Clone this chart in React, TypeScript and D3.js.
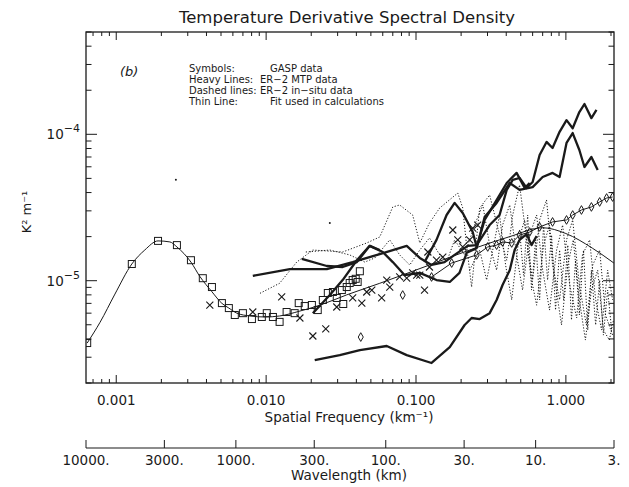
import React, { useRef, useEffect } from 'react';
import * as d3 from 'd3';

type Pt = [number, number];

// axis labels
const freqTicks = [0.001, 0.01, 0.1, 1];
const freqTickLabels = ['0.001', '0.010', '0.100', '1.000'];
const wavelengthTicks = [10000, 3000, 1000, 300, 100, 30, 10, 3];
const wavelengthLabels = ['10000.', '3000.', '1000.', '300.', '100.', '30.', '10.', '3.'];
const yMajorTicks = [1e-4, 1e-5];
const yMajorExp = ['\u22124', '\u22125'];

// Thin line: fit used in calculations
const fitLine: Pt[] = [
  [6.4e-4, 3.75e-6], [7.8e-4, 5.2e-6], [9.8e-4, 8.1e-6], [1.27e-3, 1.3e-5], [1.55e-3, 1.62e-5],
  [1.9e-3, 1.87e-5], [2.28e-3, 1.84e-5], [2.54e-3, 1.7e-5], [3.15e-3, 1.34e-5], [3.61e-3, 1.07e-5],
  [4.35e-3, 8.4e-6], [5.07e-3, 7.0e-6], [5.64e-3, 6.5e-6], [6.38e-3, 6.0e-6], [7.8e-3, 5.74e-6],
  [9.8e-3, 5.65e-6], [1.23e-2, 5.74e-6], [1.68e-2, 6.2e-6], [2.28e-2, 6.8e-6], [3.45e-2, 8.0e-6],
  [5.73e-2, 9.6e-6], [0.123, 1.28e-5], [0.228, 1.62e-5], [0.422, 2.0e-5], [0.7, 2.3e-5],
  [1.0, 2.1e-5], [1.5, 1.67e-5], [2.09, 1.32e-5],
];

// GASP data (symbols)
const gaspSquares: Pt[] = [
  [6.4e-4, 3.75e-6], [1.27e-3, 1.3e-5], [1.9e-3, 1.87e-5], [2.54e-3, 1.75e-5], [3.15e-3, 1.38e-5],
  [3.78e-3, 1.04e-5], [4.35e-3, 9.05e-6], [5.07e-3, 7.03e-6], [5.64e-3, 6.5e-6], [6.18e-3, 5.83e-6],
  [7.0e-3, 6.0e-6], [8.04e-3, 5.47e-6], [9.36e-3, 5.65e-6], [1.01e-2, 6.0e-6], [1.11e-2, 5.65e-6],
  [1.23e-2, 5.23e-6], [1.37e-2, 6.11e-6], [1.55e-2, 6.0e-6], [1.65e-2, 7.03e-6], [1.81e-2, 6.71e-6],
  [2.02e-2, 6.82e-6], [2.21e-2, 6.3e-6], [2.39e-2, 7.38e-6], [2.58e-2, 8.24e-6], [2.79e-2, 8.37e-6],
  [2.96e-2, 7.62e-6], [3.2e-2, 8.63e-6], [3.27e-2, 6.93e-6], [3.45e-2, 9.05e-6], [3.61e-2, 9.64e-6],
  [3.78e-2, 1.01e-5], [3.96e-2, 1.03e-5], [4.08e-2, 9.8e-6], [4.22e-2, 1.16e-5],
];
const gaspCrosses: Pt[] = [
  [4.21e-3, 6.82e-6], [8.15e-3, 6.11e-6], [1.27e-2, 7.74e-6], [1.68e-2, 5.56e-6], [2.05e-2, 4.19e-6],
  [2.5e-2, 4.68e-6], [2.96e-2, 6.61e-6], [3.78e-2, 7.62e-6], [4.35e-2, 7.03e-6], [4.69e-2, 8.37e-6],
  [5.07e-2, 8.63e-6], [5.9e-2, 7.62e-6], [6.38e-2, 1.01e-5], [6.68e-2, 9.05e-6], [7.78e-2, 1.06e-5],
  [8.67e-2, 1.04e-5], [9.5e-2, 1.13e-5], [0.101, 1.09e-5], [0.106, 1.09e-5], [0.114, 8.63e-6],
  [0.12, 1.57e-5], [0.123, 1.24e-5], [0.137, 1.38e-5], [0.151, 1.45e-5], [0.176, 2.22e-5],
  [0.19, 1.9e-5], [0.205, 1.7e-5], [0.228, 1.9e-5], [0.239, 2.29e-5], [0.258, 2.4e-5],
];
const gaspDiamonds: Pt[] = [
  [4.28e-2, 4.12e-6], [8.15e-2, 7.98e-6], [0.127, 1.06e-5], [0.173, 1.32e-5], [0.254, 1.5e-5],
  [0.301, 1.7e-5], [0.345, 1.75e-5], [0.378, 1.84e-5], [0.435, 1.81e-5], [0.491, 2.05e-5],
  [0.573, 2.15e-5], [0.668, 2.33e-5], [0.815, 2.52e-5], [1.01, 2.6e-5], [1.11, 2.81e-5],
  [1.27, 3.04e-5], [1.48, 3.19e-5], [1.68, 3.45e-5], [1.87, 3.67e-5], [2.05, 3.73e-5],
];
const strayDots: Pt[] = [[2.5e-3, 4.9e-5], [2.66e-2, 2.48e-5]];

// Heavy lines: ER-2 MTP data
const mtpLow: Pt[] = [
  [2.11e-2, 2.87e-6], [3.1e-2, 3.1e-6], [4.22e-2, 3.36e-6], [6.38e-2, 3.58e-6], [8.67e-2, 3.1e-6],
  [0.127, 2.74e-6], [0.168, 3.52e-6], [0.211, 4.98e-6], [0.235, 5.56e-6], [0.266, 5.47e-6],
  [0.31, 6.0e-6], [0.345, 7.38e-6], [0.378, 9.35e-6], [0.422, 1.18e-5], [0.455, 1.62e-5],
  [0.491, 1.9e-5], [0.547, 2.08e-5], [0.59, 1.75e-5], [0.638, 2.02e-5],
];
const mtpUpper: Pt[] = [
  [8.15e-3, 1.08e-5], [1.44e-2, 1.2e-5], [2.54e-2, 1.2e-5], [3.78e-2, 1.34e-5], [5.73e-2, 1.52e-5],
  [8.67e-2, 1.73e-5], [0.106, 1.43e-5], [0.127, 1.28e-5], [0.155, 1.34e-5], [0.181, 1.5e-5],
  [0.221, 1.73e-5], [0.254, 1.75e-5], [0.31, 2.4e-5], [0.361, 2.81e-5], [0.403, 4.17e-5],
  [0.442, 4.88e-5], [0.491, 5.03e-5], [0.547, 4.3e-5], [0.6, 4.72e-5], [0.668, 7.22e-5],
  [0.743, 8.87e-5], [0.815, 8.07e-5], [0.908, 1.04e-4], [1.01, 1.25e-4], [1.11, 1.1e-4],
  [1.23, 1.42e-4], [1.33, 1.61e-4], [1.48, 1.29e-4], [1.6, 1.47e-4],
];
const mtpMiddle: Pt[] = [
  [1.73e-2, 1.41e-5], [2.54e-2, 1.26e-5], [3.24e-2, 1.24e-5], [4.03e-2, 1.34e-5], [4.91e-2, 1.73e-5],
  [6.0e-2, 1.57e-5], [7.0e-2, 1.34e-5], [8.41e-2, 1.09e-5], [0.106, 1.13e-5], [0.137, 1.01e-5],
  [0.168, 9.8e-6], [0.195, 1.13e-5], [0.218, 1.55e-5], [0.254, 1.67e-5], [0.287, 2.72e-5],
  [0.345, 3.4e-5], [0.422, 4.65e-5], [0.491, 4.17e-5], [0.6, 4.36e-5], [0.7, 5.11e-5],
  [0.815, 5.45e-5], [0.908, 5.11e-5], [1.01, 8.73e-5], [1.11, 1.02e-4], [1.23, 7.81e-5],
  [1.33, 5.98e-5], [1.48, 7.0e-5], [1.63, 5.71e-5],
];
const mtpSteep: Pt[] = [
  [2.05e-2, 6.0e-6], [2.66e-2, 7.98e-6], [3.24e-2, 1.01e-5], [4.03e-2, 1.38e-5], [4.91e-2, 1.73e-5],
  [5.73e-2, 1.62e-5],
];
const mtpPeak: Pt[] = [
  [0.114, 1.34e-5], [0.137, 1.9e-5], [0.16, 2.81e-5], [0.181, 3.4e-5], [0.205, 2.9e-5],
  [0.239, 2.15e-5], [0.254, 1.7e-5], [0.287, 2.6e-5], [0.324, 3.19e-5], [0.361, 3.85e-5],
  [0.403, 4.65e-5], [0.469, 5.45e-5], [0.531, 4.3e-5], [0.573, 4.65e-5],
];

// Dashed lines: ER-2 in-situ data
const insituA: Pt[] = [
  [9.1e-3, 8.2e-6], [1.23e-2, 9.6e-6], [1.6e-2, 1.34e-5], [2.05e-2, 1.62e-5], [3.24e-2, 1.57e-5],
  [4.69e-2, 1.81e-5], [5.73e-2, 1.99e-5], [7.0e-2, 3.19e-5], [7.78e-2, 3.29e-5], [9.5e-2, 2.81e-5],
  [0.106, 1.81e-5], [0.123, 2.48e-5], [0.144, 3.14e-5], [0.19, 3.97e-5], [0.205, 3.14e-5],
  [0.218, 1.7e-5], [0.235, 9.05e-6], [0.266, 3.14e-5], [0.31, 3.85e-5], [0.361, 2.05e-5],
  [0.403, 1.38e-5], [0.442, 2.81e-5], [0.491, 4.51e-5], [0.547, 1.9e-5], [0.6, 1.01e-5],
  [0.668, 2.6e-5], [0.743, 3.56e-5], [0.815, 1.28e-5], [0.908, 7.4e-6], [1.01, 1.9e-5],
  [1.11, 2.6e-5], [1.23, 9.35e-6], [1.37, 4.98e-6], [1.51, 1.28e-5], [1.68, 1.62e-5],
  [1.84, 5.83e-6], [2.05, 4.25e-6],
];
const insituB: Pt[] = [
  [1.84e-2, 1.57e-5], [2.66e-2, 1.62e-5], [3.61e-2, 1.5e-5], [4.55e-2, 1.34e-5], [5.31e-2, 1.43e-5],
  [6.68e-2, 1.9e-5], [7.78e-2, 1.5e-5], [9.08e-2, 1.28e-5], [0.106, 1.62e-5], [0.123, 1.96e-5],
  [0.144, 1.5e-5], [0.16, 1.34e-5], [0.181, 1.9e-5], [0.211, 1.5e-5], [0.246, 2.4e-5],
  [0.279, 3.29e-5], [0.31, 1.75e-5], [0.345, 1.18e-5], [0.378, 2.4e-5], [0.422, 3.29e-5],
  [0.469, 1.5e-5], [0.514, 8.63e-6], [0.573, 2.05e-5], [0.638, 2.81e-5], [0.7, 1.18e-5],
  [0.778, 6.3e-6], [0.867, 1.62e-5], [0.951, 2.4e-5], [1.06, 9.35e-6], [1.18, 5.56e-6],
  [1.29, 1.5e-5], [1.44, 1.9e-5], [1.58, 7.4e-6], [1.73, 4.6e-6], [1.9, 1.18e-5], [2.05, 7.4e-6],
];
const insituC: Pt[] = [
  [0.228, 1.18e-5], [0.266, 1.62e-5], [0.296, 1.01e-5], [0.33, 1.75e-5], [0.361, 2.81e-5],
  [0.396, 1.28e-5], [0.435, 7.4e-6], [0.484, 1.9e-5], [0.531, 2.6e-5], [0.582, 1.09e-5],
  [0.638, 6.8e-6], [0.71, 1.75e-5], [0.778, 2.4e-5], [0.853, 9.35e-6], [0.935, 4.98e-6],
  [1.03, 1.28e-5], [1.12, 1.9e-5], [1.23, 7.4e-6], [1.35, 3.93e-6], [1.48, 8.63e-6],
  [1.63, 1.18e-5], [1.78, 4.6e-6], [1.95, 3.93e-6], [2.08, 5.4e-6],
];
const insituD: Pt[] = [
  [0.491, 2.22e-5], [0.522, 1.09e-5], [0.556, 2.81e-5], [0.59, 8.63e-6], [0.628, 1.9e-5],
  [0.668, 7.38e-6], [0.71, 2.4e-5], [0.755, 1.01e-5], [0.803, 2.05e-5], [0.853, 6.3e-6],
  [0.908, 1.62e-5], [0.966, 7.38e-6], [1.03, 1.75e-5], [1.09, 5.39e-6], [1.16, 1.38e-5],
  [1.23, 5.83e-6], [1.31, 1.62e-5], [1.4, 4.6e-6], [1.48, 1.18e-5], [1.58, 4.98e-6],
  [1.68, 1.01e-5], [1.78, 4.25e-6], [1.9, 8.63e-6], [2.02, 4.6e-6],
];

const FONT = '"DejaVu Sans", sans-serif';
const INK = '#1a1a1a';

function SpectrumChart() {
  const svgRef = useRef<SVGSVGElement>(null);

  useEffect(() => {
    const width = 629;
    const height = 487;
    const left = 86, right = 614, top = 32, bottom = 383;

    const svg = d3.select(svgRef.current)
      .attr('width', width)
      .attr('height', height)
      .attr('viewBox', `0 0 ${width} ${height}`);
    svg.selectAll('*').remove();

    const x = d3.scaleLog().domain([2 * Math.PI / 10000, 2 * Math.PI / 3]).range([left, right]);
    const y = d3.scaleLog().domain([2e-6, 5e-4]).range([bottom, top]);

    svg.append('rect').attr('width', width).attr('height', height).attr('fill', '#fff');

    svg.append('clipPath').attr('id', 'plot-clip')
      .append('rect').attr('x', left).attr('y', top)
      .attr('width', right - left).attr('height', bottom - top);

    const plot = svg.append('g').attr('clip-path', 'url(#plot-clip)');

    const line = d3.line<Pt>().x(d => x(d[0])).y(d => y(d[1]));
    const smooth = d3.line<Pt>().x(d => x(d[0])).y(d => y(d[1])).curve(d3.curveMonotoneX);

    // dashed lines (in-situ)
    [insituA, insituB, insituC, insituD].forEach(s => {
      plot.append('path').attr('d', line(s)).attr('fill', 'none')
        .attr('stroke', INK).attr('stroke-width', 1).attr('stroke-dasharray', '1.2,1.8');
    });

    // thin fit line
    plot.append('path').attr('d', smooth(fitLine)).attr('fill', 'none')
      .attr('stroke', INK).attr('stroke-width', 1);

    // thin line through diamonds
    plot.append('path').attr('d', line(gaspDiamonds.slice(2))).attr('fill', 'none')
      .attr('stroke', INK).attr('stroke-width', 1);

    // heavy lines (MTP)
    [mtpLow, mtpUpper, mtpMiddle, mtpSteep, mtpPeak].forEach(s => {
      plot.append('path').attr('d', line(s)).attr('fill', 'none')
        .attr('stroke', INK).attr('stroke-width', 2.3).attr('stroke-linejoin', 'round');
    });

    // symbols
    plot.selectAll('rect.sq').data(gaspSquares).enter().append('rect')
      .attr('class', 'sq')
      .attr('x', d => x(d[0]) - 3.5).attr('y', d => y(d[1]) - 3.5)
      .attr('width', 7).attr('height', 7)
      .attr('fill', 'none').attr('stroke', INK).attr('stroke-width', 1);

    plot.selectAll('path.cross').data(gaspCrosses).enter().append('path')
      .attr('class', 'cross')
      .attr('transform', d => `translate(${x(d[0])},${y(d[1])})`)
      .attr('d', 'M-3.5,-3.5L3.5,3.5M-3.5,3.5L3.5,-3.5')
      .attr('stroke', INK).attr('stroke-width', 1.1);

    plot.selectAll('path.dia').data(gaspDiamonds).enter().append('path')
      .attr('class', 'dia')
      .attr('transform', d => `translate(${x(d[0])},${y(d[1])})`)
      .attr('d', d3.symbol(d3.symbolDiamond, 22)())
      .attr('fill', 'none').attr('stroke', INK).attr('stroke-width', 1);

    plot.selectAll('circle.dot').data(strayDots).enter().append('circle')
      .attr('class', 'dot')
      .attr('cx', d => x(d[0])).attr('cy', d => y(d[1])).attr('r', 1)
      .attr('fill', INK);

    // frame
    svg.append('rect').attr('x', left).attr('y', top)
      .attr('width', right - left).attr('height', bottom - top)
      .attr('fill', 'none').attr('stroke', INK).attr('stroke-width', 1.3);

    const isMajor = (v: number) => Math.abs(Math.log10(v) - Math.round(Math.log10(v))) < 1e-6;

    // x ticks (bottom and top, inward)
    x.ticks().forEach(t => {
      const len = isMajor(t) ? 8 : 4;
      svg.append('line').attr('x1', x(t)).attr('x2', x(t)).attr('y1', bottom).attr('y2', bottom - len)
        .attr('stroke', INK).attr('stroke-width', 1);
      svg.append('line').attr('x1', x(t)).attr('x2', x(t)).attr('y1', top).attr('y2', top + len)
        .attr('stroke', INK).attr('stroke-width', 1);
    });

    // y ticks (left and right, inward)
    y.ticks().forEach(t => {
      const len = isMajor(t) ? 11 : 5.5;
      svg.append('line').attr('x1', left).attr('x2', left + len).attr('y1', y(t)).attr('y2', y(t))
        .attr('stroke', INK).attr('stroke-width', 1);
      svg.append('line').attr('x1', right).attr('x2', right - len).attr('y1', y(t)).attr('y2', y(t))
        .attr('stroke', INK).attr('stroke-width', 1);
    });

    // x tick labels
    freqTicks.forEach((t, i) => {
      svg.append('text').attr('x', x(t)).attr('y', 405)
        .attr('text-anchor', 'middle').attr('font-family', FONT).attr('font-size', 13.5)
        .attr('fill', INK).text(freqTickLabels[i]);
    });

    svg.append('text').attr('x', 349).attr('y', 422)
      .attr('text-anchor', 'middle').attr('font-family', FONT).attr('font-size', 13.5)
      .attr('fill', INK).text('Spatial Frequency (km\u207B\u00B9)');

    // y tick labels
    yMajorTicks.forEach((t, i) => {
      const txt = svg.append('text').attr('x', 80).attr('y', y(t) + 5)
        .attr('text-anchor', 'end').attr('font-family', FONT).attr('font-size', 13.5).attr('fill', INK);
      txt.append('tspan').text('10');
      txt.append('tspan').attr('dy', -7).attr('font-size', 11).text(yMajorExp[i]);
    });

    svg.append('text')
      .attr('transform', 'translate(31,212) rotate(-90)')
      .attr('text-anchor', 'middle').attr('font-family', FONT).attr('font-size', 13)
      .attr('fill', INK).text('K\u00B2 m\u207B\u00B9');

    // wavelength axis
    const wy = 448;
    svg.append('line').attr('x1', left).attr('x2', right).attr('y1', wy).attr('y2', wy)
      .attr('stroke', INK).attr('stroke-width', 1.1);
    wavelengthTicks.forEach((w, i) => {
      const px = x(2 * Math.PI / w);
      svg.append('line').attr('x1', px).attr('x2', px).attr('y1', wy).attr('y2', wy - 8)
        .attr('stroke', INK).attr('stroke-width', 1);
      svg.append('text').attr('x', px).attr('y', 465)
        .attr('text-anchor', 'middle').attr('font-family', FONT).attr('font-size', 13.5)
        .attr('fill', INK).text(wavelengthLabels[i]);
    });
    svg.append('text').attr('x', 349).attr('y', 480)
      .attr('text-anchor', 'middle').attr('font-family', FONT).attr('font-size', 13.5)
      .attr('fill', INK).text('Wavelength (km)');

    // title
    svg.append('text').attr('x', 347).attr('y', 23)
      .attr('text-anchor', 'middle').attr('font-family', FONT).attr('font-size', 16.5)
      .attr('fill', INK).text('Temperature Derivative Spectral Density');

    // panel tag and legend
    svg.append('text').attr('x', 120).attr('y', 76)
      .attr('font-family', FONT).attr('font-size', 13).attr('font-style', 'italic')
      .attr('fill', INK).text('(b)');

    const legend = [
      ['Symbols:', 'GASP data', 270],
      ['Heavy Lines:', 'ER\u22122 MTP data', 260],
      ['Dashed lines:', 'ER\u22122 in\u2212situ data', 260],
      ['Thin Line:', 'Fit used in calculations', 270],
    ] as const;
    legend.forEach(([label, value, vx], i) => {
      const ly = 72 + i * 11;
      svg.append('text').attr('x', 189).attr('y', ly)
        .attr('font-family', FONT).attr('font-size', 10).attr('fill', INK).text(label);
      svg.append('text').attr('x', vx).attr('y', ly)
        .attr('font-family', FONT).attr('font-size', 10).attr('fill', INK).text(value);
    });
  }, []);

  return <svg ref={svgRef}></svg>;
}

export default function App() {
  return (
    <div style={{ position: 'absolute', left: 0, top: 0 }}>
      <SpectrumChart />
    </div>
  );
}
